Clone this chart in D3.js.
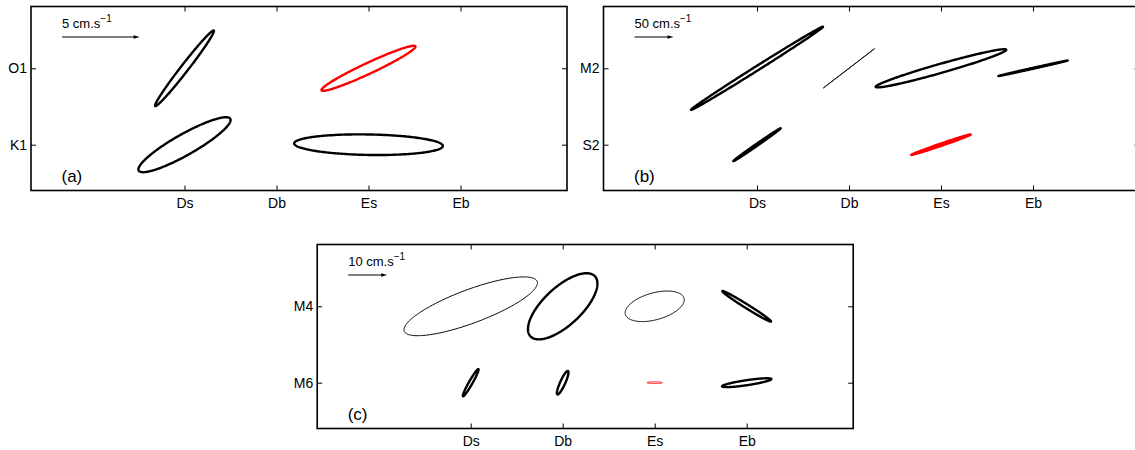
<!DOCTYPE html>
<html>
<head>
<meta charset="utf-8">
<script src="https://cdn.jsdelivr.net/npm/d3@7"></script>
<style>
  html, body { margin: 0; padding: 0; background: #fff; }
  svg { display: block; font-family: "Liberation Sans", Arial, Helvetica, sans-serif; }
</style>
</head>
<body>
<svg id="fig" width="1135" height="450"></svg>
<script>
// Stations along the x axis
const stations = ["Ds", "Db", "Es", "Eb"];

// (a) diurnal constituents — semi-major / semi-minor axes in cm/s,
// inclination in degrees (counter-clockwise from east).
// Negative minor axis = clockwise rotation (drawn with a heavy line).
const aConstituents = ["O1", "K1"];
const aConst   = ["O1", "O1", "K1", "K1"];
const aStation = ["Ds", "Es", "Ds", "Es"];
const aMajor   = [3.08, 3.34, 3.39, 4.79];
const aMinor   = [-0.24, -0.35, -0.68, -0.66];
const aIncl    = [52.2, 25.1, 29.5, -1.0];
const aRed     = [false, true, false, false];

// (b) semidiurnal constituents
const bConstituents = ["M2", "S2"];
const bConst   = ["M2", "M2", "M2", "M2", "S2", "S2"];
const bStation = ["Ds", "Db", "Es", "Eb", "Ds", "Es"];
const bMajor   = [100, 41.5, 87, 45.5, 36.9, 40.3];
const bMinor   = [-2.8, 0.1, -5.8, -0.6, -1.3, -1.5];
const bIncl    = [32.2, 37.5, 15.9, 12.6, 34.8, 18.9];
const bRed     = [false, false, false, false, false, true];

// (c) overtides
const cConstituents = ["M4", "M6"];
const cConst   = ["M4", "M4", "M4", "M4", "M6", "M6", "M6", "M6"];
const cStation = ["Ds", "Db", "Es", "Eb", "Ds", "Db", "Es", "Eb"];
const cMajor   = [18.2, 11.3, 7.8, 7.36, 4.0, 3.3, 1.95, 6.4];
const cMinor   = [4.3, -4.85, 3.44, -0.5, -0.46, -0.65, 0.22, -0.64];
const cIncl    = [20.5, 43, 15.5, -32, 60.4, 65.7, 0, 8.5];
const cRed     = [false, false, false, false, false, false, true, false];

// Reference-arrow speeds (cm/s) for each panel
const refSpeeds = [5, 50, 10];
const panelTags = ["(a)", "(b)", "(c)"];

const panels = [
  { tag: panelTags[0], ref: refSpeeds[0], refPx: 77.6, left: 31,    top: 6.5,
    consts: aConstituents, c: aConst, s: aStation, A: aMajor, B: aMinor, inc: aIncl, red: aRed },
  { tag: panelTags[1], ref: refSpeeds[1], refPx: 39,   left: 603.5, top: 6.5,
    consts: bConstituents, c: bConst, s: bStation, A: bMajor, B: bMinor, inc: bIncl, red: bRed },
  { tag: panelTags[2], ref: refSpeeds[2], refPx: 39,   left: 317.2, top: 244.5,
    consts: cConstituents, c: cConst, s: cStation, A: cMajor, B: cMinor, inc: cIncl, red: cRed }
];

const W = 536, H = 184;
const svg = d3.select("#fig");

function ellipsePoints(cx, cy, vel, A, B, inclDeg) {
  const th = inclDeg * Math.PI / 180;
  return d3.range(0, 240).map(i => {
    const t = i / 240 * 2 * Math.PI;
    const u = A * Math.cos(t), v = B * Math.sin(t);
    return [cx + vel(u * Math.cos(th) - v * Math.sin(th)),
            cy - vel(u * Math.sin(th) + v * Math.cos(th))];
  });
}
const closedLine = d3.line().curve(d3.curveLinearClosed);

panels.forEach(p => {
  const g = svg.append("g").attr("transform", `translate(${p.left},${p.top})`);

  const x = d3.scalePoint().domain(stations).range([153.5, 429.5]);
  const y = d3.scalePoint().domain(p.consts).range([61.8, 138.2]);
  const vel = d3.scaleLinear().domain([0, p.ref]).range([0, p.refPx]);

  // axes: ticks pointing inward on all four sides, labels on bottom/left
  const styleAxis = sel => {
    sel.attr("font-family", null).attr("font-size", 14);
    sel.select(".domain").remove();
    sel.selectAll(".tick line").attr("stroke", "#000");
    sel.selectAll(".tick text").attr("fill", "#000");
  };
  g.append("g").attr("transform", `translate(0,${H})`)
    .call(d3.axisBottom(x).tickSize(-5).tickSizeOuter(0).tickPadding(7.5)).call(styleAxis);
  g.append("g")
    .call(d3.axisTop(x).tickSize(-5).tickSizeOuter(0).tickFormat(() => "")).call(styleAxis);
  g.append("g")
    .call(d3.axisLeft(y).tickSize(-5).tickSizeOuter(0).tickPadding(4)).call(styleAxis);
  g.append("g").attr("transform", `translate(${W},0)`)
    .call(d3.axisRight(y).tickSize(-5).tickSizeOuter(0).tickFormat(() => "")).call(styleAxis);

  g.append("rect").attr("x", 0).attr("y", 0).attr("width", W).attr("height", H)
    .attr("fill", "none").attr("stroke", "#000").attr("stroke-width", 1.6);

  // tidal current ellipses
  p.A.forEach((A, i) => {
    const cx = x(p.s[i]), cy = y(p.c[i]);
    g.append("path")
      .attr("d", closedLine(ellipsePoints(cx, cy, vel, A, p.B[i], p.inc[i])))
      .attr("fill", "none")
      .attr("stroke", p.red[i] ? "#ff0000" : "#000")
      .attr("stroke-width", p.B[i] < 0 ? 2.4 : 1)
      .attr("stroke-linejoin", "round");
  });

  // reference arrow
  const ax0 = 31, ay = 30.5, ax1 = ax0 + vel(p.ref), head = 6;
  g.append("line").attr("x1", ax0).attr("x2", ax1 - head + 1).attr("y1", ay).attr("y2", ay)
    .attr("stroke", "#000").attr("stroke-width", 1);
  g.append("path")
    .attr("d", `M${ax1},${ay}L${ax1 - head},${ay - 1.8}L${ax1 - head},${ay + 1.8}Z`)
    .attr("fill", "#000");
  const lab = g.append("text").attr("x", ax0).attr("y", 21).attr("font-size", 13).attr("fill", "#000");
  lab.append("tspan").text(`${p.ref} cm.s`);
  lab.append("tspan").attr("dy", -6).attr("font-size", 10).text("\u22121");

  // panel tag
  g.append("text").attr("x", 30.5).attr("y", 175).attr("font-size", 17).attr("fill", "#000").text(p.tag);
});
</script>
</body>
</html>
